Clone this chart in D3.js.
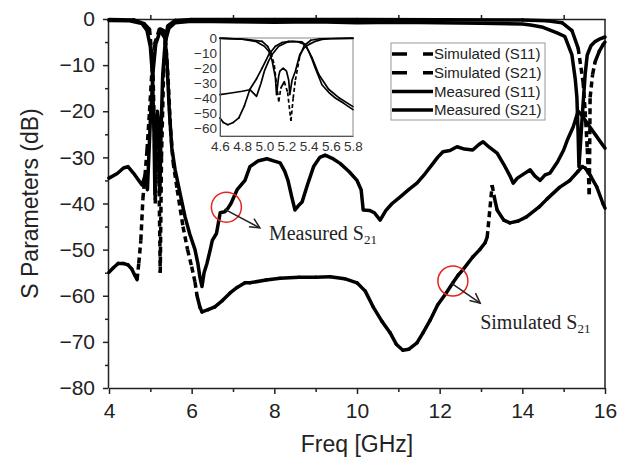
<!DOCTYPE html>
<html>
<head>
<meta charset="utf-8">
<script src="https://cdn.jsdelivr.net/npm/d3@7"></script>
<style>
body { margin: 0; background: #fff; }
svg { display: block; }
</style>
</head>
<body>
<script>
var width = 619,
    height = 463;

// tick values
var xTicks = [4, 6, 8, 10, 12, 14, 16],
    xMinor = [5, 7, 9, 11, 13, 15],
    yTicks = [0, -10, -20, -30, -40, -50, -60, -70, -80],
    yMinor = [-5, -15, -25, -35, -45, -55, -65, -75],
    insetXTicks = [4.6, 4.8, 5.0, 5.2, 5.4, 5.6, 5.8],
    insetYTicks = [0, -10, -20, -30, -40, -50, -60];

var seriesNames = ["Simulated (S11)", "Simulated (S21)", "Measured (S11)", "Measured (S21)"];

// main plot, [GHz, dB]
var simS11 = [[4,-0.1],[4.6,-0.2],[4.85,-1],[4.98,-2.2],[5.06,-10],[5.1,-25],[5.12,-40],[5.15,-30],[5.18,-27],
  [5.21,-35],[5.24,-55],[5.27,-30],[5.32,-12],[5.36,-5],[5.42,-1.5],[5.6,-0.3],[6,-0.1],[8,-0.1],[10,-0.1],
  [12,-0.15],[14,-0.2],[14.6,-0.4],[14.96,-0.8],[15.2,-2.5],[15.35,-6.3],[15.47,-13.7],[15.52,-20],[15.57,-28],
  [15.62,-38],[15.64,-17],[15.7,-12],[15.76,-9.3],[15.86,-7],[15.95,-5.6],[16,-5]];

var simS21 = [[4,-54.9],[4.1,-54],[4.22,-53],[4.35,-53],[4.46,-53.3],[4.55,-54.2],[4.62,-55.5],[4.68,-56.5],
  [4.72,-53],[4.77,-48],[4.82,-39],[4.87,-34],[4.92,-28.4],[4.98,-20],[5.04,-11],[5.1,-5.5],[5.22,-2.2],
  [5.37,-4.4],[5.43,-13],[5.49,-24],[5.55,-31],[5.65,-37],[5.79,-45],[5.9,-50],[6.0,-53.7],[6.08,-57],
  [6.13,-60],[6.2,-62.5],[6.25,-63.5],[6.4,-63],[6.56,-62.4],[6.75,-61],[6.93,-59.4],[7.1,-58.2],[7.29,-57.2],
  [7.41,-57.2],[7.8,-56.6],[8.14,-56.2],[8.6,-56],[9.0,-56],[9.35,-55.9],[9.7,-56.3],[10.0,-57.2],[10.2,-59],
  [10.39,-62.4],[10.6,-65.5],[10.8,-68],[10.95,-70.5],[11.11,-71.8],[11.25,-71.6],[11.45,-70.2],[11.6,-68],
  [11.77,-65.3],[11.95,-62],[12.15,-59.5],[12.32,-57.2],[12.45,-55.5],[12.56,-54.4],[12.8,-51.6],[12.97,-50],
  [13.1,-48.5],[13.15,-47.3],[13.27,-36],[13.33,-39],[13.39,-41.4],[13.55,-43.6],[13.7,-44.2],[13.9,-43.8],
  [14.1,-42.9],[14.4,-40.8],[14.6,-39],[14.9,-36.5],[15.15,-35],[15.35,-33],[15.45,-32],[15.52,-32.3],
  [15.65,-34],[15.8,-36.4],[15.95,-40],[16,-41]];

var measS11 = [[4,-0.3],[4.5,-0.4],[4.8,-1],[4.92,-2.5],[5.0,-6],[5.05,-12],[5.09,-25],[5.11,-38],[5.13,-24],
  [5.17,-20],[5.2,-23],[5.23,-38],[5.26,-24],[5.3,-12],[5.36,-5],[5.45,-2],[5.6,-0.8],[6,-0.5],[7,-0.6],
  [8,-0.7],[9,-0.6],[10,-0.8],[11,-0.7],[12,-0.8],[13,-0.9],[14,-1.1],[14.2,-1.3],[14.5,-1.8],[14.84,-3],
  [15.03,-3.8],[15.2,-7.8],[15.28,-13],[15.32,-17],[15.35,-25],[15.37,-32],[15.4,-28],[15.45,-21],
  [15.52,-12],[15.57,-7.8],[15.66,-5.8],[15.76,-4.9],[15.88,-4.3],[16,-3.9]];

var measS21 = [[4,-34.5],[4.2,-33.5],[4.35,-32.3],[4.46,-32],[4.6,-33.5],[4.72,-35],[4.8,-36],[4.87,-34],
  [4.93,-37],[5.0,-22],[5.07,-11],[5.13,-5.5],[5.25,-2.2],[5.34,-2.6],[5.4,-8.8],[5.46,-20],[5.52,-28],
  [5.6,-32.7],[5.7,-37],[5.84,-42.9],[5.95,-46.5],[6.08,-50],[6.15,-53],[6.2,-56],[6.25,-58],[6.3,-55],
  [6.37,-53],[6.45,-50],[6.5,-48],[6.6,-46.5],[6.69,-42],[6.8,-41.8],[6.88,-41],[6.95,-40],[7.1,-37],
  [7.29,-35],[7.41,-32],[7.6,-30.8],[7.82,-30.3],[8.0,-30.8],[8.14,-31.2],[8.25,-33],[8.33,-35],[8.42,-38.5],
  [8.5,-41.4],[8.58,-40.5],[8.67,-39.7],[8.8,-36],[8.95,-32],[9.1,-30],[9.23,-29.5],[9.4,-30.2],[9.59,-31.3],
  [9.8,-33],[10.0,-35],[10.1,-37],[10.15,-41.4],[10.3,-41.5],[10.42,-42],[10.56,-43.6],[10.7,-41.5],
  [10.85,-40],[11.04,-38.6],[11.25,-37],[11.45,-35.6],[11.65,-33.5],[11.84,-31.3],[11.95,-30],[12.08,-28.8],
  [12.25,-28.5],[12.42,-27.7],[12.6,-28.2],[12.8,-28.4],[12.95,-27.2],[13.05,-26.6],[13.2,-27.8],[13.39,-29.1],
  [13.55,-31.5],[13.7,-34],[13.78,-35.6],[13.88,-34.5],[14.0,-33.8],[14.19,-32.7],[14.3,-34],[14.43,-35],
  [14.55,-33.8],[14.67,-33.4],[14.85,-31],[15.0,-28.4],[15.1,-26],[15.23,-23.4],[15.35,-20],[15.45,-21],
  [15.6,-23],[15.8,-25.5],[16,-28]];

// inset (passband zoom)
var insetSimS11 = [[4.6,-0.1],[4.85,-1],[4.98,-2.2],[5.03,-5.5],[5.06,-10],[5.09,-18],[5.11,-31],[5.13,-42],
  [5.15,-33],[5.18,-29],[5.21,-36],[5.24,-55],[5.26,-40],[5.28,-28],[5.32,-12],[5.36,-5],[5.42,-1.5],
  [5.5,-0.5],[5.8,-0.1]];

var insetSimS21 = [[4.6,-53],[4.63,-56],[4.67,-57.5],[4.72,-56],[4.77,-53],[4.82,-45],[4.87,-34],[4.93,-27],
  [4.98,-20],[5.04,-11],[5.1,-5.5],[5.16,-3],[5.22,-2.2],[5.3,-2.5],[5.37,-4.4],[5.43,-13],[5.49,-24],
  [5.58,-34],[5.68,-40],[5.8,-45.5]];

var insetMeasS11 = [[4.6,-0.3],[4.8,-0.8],[4.92,-2.2],[5.0,-5.5],[5.04,-8.8],[5.07,-15],[5.1,-26.5],
  [5.11,-37.6],[5.13,-25],[5.14,-22],[5.17,-20],[5.2,-22],[5.22,-28],[5.23,-37.6],[5.25,-28],[5.28,-22],
  [5.32,-11],[5.36,-6.5],[5.4,-4.4],[5.46,-2.2],[5.52,-1],[5.6,-0.5],[5.8,-0.3]];

var insetMeasS21 = [[4.6,-37.6],[4.7,-36.5],[4.8,-35.3],[4.87,-34.3],[4.93,-38.7],[4.97,-30],[5.0,-22],
  [5.04,-15],[5.07,-11],[5.13,-5.5],[5.2,-3],[5.25,-2.2],[5.34,-2.6],[5.37,-4.5],[5.4,-8.8],[5.43,-14],
  [5.46,-20],[5.52,-31],[5.58,-36],[5.64,-39.8],[5.72,-43.5],[5.8,-47.5]];

// callouts: circle on the curve, arrow end, label
var callouts = [
  {text: "Measured S", sub: "21", at: [6.84, -40.8], tip: [7.65, -45.3], label: [7.87, -47.9]},
  {text: "Simulated S", sub: "21", at: [12.32, -56.8], tip: [12.98, -61.6], label: [12.98, -67.2]}
];

var sans = "'Liberation Sans', Arial, sans-serif",
    serif = "'Liberation Serif', 'Times New Roman', serif";

var svg = d3.select("body").append("svg")
    .attr("width", width)
    .attr("height", height);

var x = d3.scaleLinear().domain([4, 16]).range([109, 605]),
    y = d3.scaleLinear().domain([-80, 0]).range([388, 19]);

var xi = d3.scaleLinear().domain([4.6, 5.8]).range([220, 353]),
    yi = d3.scaleLinear().domain([-65, 0]).range([136, 38]);

// Origin-style: simulated lines only look dashed where a segment is long and steep
function drawSeries(g, pts, sx, sy, w, dashed, dash, steep) {
    var line = d3.line().x(function(d) { return sx(d[0]); }).y(function(d) { return sy(d[1]); });
    if (!dashed) {
        g.append("path").datum(pts)
            .attr("d", line)
            .attr("fill", "none")
            .attr("stroke", "#000")
            .attr("stroke-width", w)
            .attr("stroke-linejoin", "round")
            .attr("stroke-linecap", "round");
        return;
    }
    function isSteep(d) {
        var dy = Math.abs(sy(d[1][1]) - sy(d[0][1])),
            dx = Math.abs(sx(d[1][0]) - sx(d[0][0]));
        return dy > steep && dy > 3 * dx;
    }
    g.selectAll(null).data(d3.pairs(pts)).enter().append("path")
        .attr("d", line)
        .attr("fill", "none")
        .attr("stroke", "#000")
        .attr("stroke-width", w)
        .attr("stroke-dasharray", function(d) { return isSteep(d) ? dash : null; })
        .attr("stroke-linecap", function(d) { return isSteep(d) ? "butt" : "round"; });
}

// axes
function styleAxis(g, size) {
    g.select(".domain").attr("stroke", "#222").attr("stroke-width", 1.5);
    g.selectAll(".tick line").attr("stroke", "#222").attr("stroke-width", 1.5);
    g.selectAll("text").attr("font-family", sans).attr("font-size", size).attr("fill", "#222");
}

var gx = svg.append("g").attr("transform", "translate(0,388)")
    .call(d3.axisBottom(x).tickValues(xTicks).tickSize(6).tickSizeOuter(0).tickPadding(9));
styleAxis(gx, 21);
svg.append("g").attr("transform", "translate(0,388)")
    .call(d3.axisBottom(x).tickValues(xMinor).tickSize(4).tickFormat(""))
    .call(function(g) { g.select(".domain").remove(); styleAxis(g, 0); });

var gy = svg.append("g").attr("transform", "translate(108,0)")
    .call(d3.axisLeft(y).tickValues(yTicks).tickSize(5).tickSizeOuter(0).tickPadding(8));
styleAxis(gy, 21);
svg.append("g").attr("transform", "translate(108,0)")
    .call(d3.axisLeft(y).tickValues(yMinor).tickSize(3).tickFormat(""))
    .call(function(g) { g.select(".domain").remove(); styleAxis(g, 0); });

// top and right frame
svg.append("g").attr("transform", "translate(0,19)")
    .call(d3.axisTop(x).tickValues(xMinor).tickSize(4).tickSizeOuter(0).tickFormat(""))
    .call(function(g) { styleAxis(g, 0); });
svg.append("line")
    .attr("x1", x(16)).attr("x2", x(16))
    .attr("y1", y(0)).attr("y2", y(-80))
    .attr("stroke", "#222").attr("stroke-width", 1.5);

svg.append("text")
    .attr("x", (x(4) + x(16)) / 2).attr("y", 452)
    .attr("text-anchor", "middle")
    .attr("font-family", sans).attr("font-size", 23).attr("fill", "#222")
    .text("Freq [GHz]");

svg.append("text")
    .attr("transform", "translate(38," + (y(0) + y(-80)) / 2 + ") rotate(-90)")
    .attr("text-anchor", "middle")
    .attr("font-family", sans).attr("font-size", 23).attr("fill", "#222")
    .text("S Parameters (dB)");

// main curves
var main = svg.append("g");
drawSeries(main, simS21, x, y, 3.5, true, "6,4", 12);
drawSeries(main, measS21, x, y, 3.5, false);
drawSeries(main, simS11, x, y, 3.5, true, "6,4", 12);
drawSeries(main, measS11, x, y, 3.5, false);

// inset
var inset = svg.append("g");
inset.append("rect")
    .attr("x", xi(4.6)).attr("y", yi(0))
    .attr("width", xi(5.8) - xi(4.6)).attr("height", yi(-65) - yi(0))
    .attr("fill", "#fff").attr("stroke", "#888").attr("stroke-width", 1);

drawSeries(inset, insetSimS21, xi, yi, 1.7, true, "4,2.5", 6);
drawSeries(inset, insetMeasS21, xi, yi, 1.7, false);
drawSeries(inset, insetSimS11, xi, yi, 1.7, true, "4,2.5", 6);
drawSeries(inset, insetMeasS11, xi, yi, 1.7, false);

var ixa = inset.append("g").attr("transform", "translate(0," + yi(-65) + ")")
    .call(d3.axisBottom(xi).tickValues(insetXTicks).tickSize(0).tickPadding(5).tickFormat(d3.format(".1f")));
ixa.select(".domain").attr("stroke", "#555");
ixa.selectAll("text").attr("font-family", sans).attr("font-size", 13.5).attr("fill", "#333");

var iya = inset.append("g").attr("transform", "translate(" + xi(4.6) + ",0)")
    .call(d3.axisLeft(yi).tickValues(insetYTicks).tickSize(0).tickPadding(3));
iya.select(".domain").attr("stroke", "#555");
iya.selectAll("text").attr("font-family", sans).attr("font-size", 13.5).attr("fill", "#333");

// legend
var legend = svg.append("g").attr("transform", "translate(391,43)");
legend.append("rect")
    .attr("width", 154).attr("height", 77)
    .attr("fill", "#fff").attr("stroke", "#999").attr("stroke-width", 1);

var rows = legend.selectAll("g.row").data(seriesNames).enter().append("g")
    .attr("class", "row")
    .attr("transform", function(d, i) { return "translate(0," + (11 + i * 18.7) + ")"; });

rows.append("line")
    .attr("x1", 1).attr("x2", 42)
    .attr("stroke", "#000").attr("stroke-width", 3.5)
    .attr("stroke-dasharray", function(d) { return d.indexOf("Simulated") === 0 ? "15,16" : null; });

rows.append("text")
    .attr("x", 43).attr("dy", "0.35em")
    .attr("font-family", sans).attr("font-size", 15).attr("fill", "#222")
    .text(function(d) { return d; });

// callouts
var notes = svg.append("g");
callouts.forEach(function(c) {
    var cx = x(c.at[0]), cy = y(c.at[1]),
        tx = x(c.tip[0]), ty = y(c.tip[1]),
        a = Math.atan2(ty - cy, tx - cx), h = 11, s = 0.45;

    notes.append("circle")
        .attr("cx", cx).attr("cy", cy).attr("r", 15)
        .attr("fill", "none").attr("stroke", "#e3261f").attr("stroke-width", 1.5);

    notes.append("line")
        .attr("x1", cx - 2).attr("y1", cy + 2).attr("x2", tx).attr("y2", ty)
        .attr("stroke", "#222").attr("stroke-width", 1.5);

    notes.append("path")
        .attr("d", d3.line()([
            [tx - h * Math.cos(a - s), ty - h * Math.sin(a - s)],
            [tx, ty],
            [tx - h * Math.cos(a + s), ty - h * Math.sin(a + s)]
        ]))
        .attr("fill", "none").attr("stroke", "#222").attr("stroke-width", 1.5);

    var t = notes.append("text")
        .attr("x", x(c.label[0])).attr("y", y(c.label[1]))
        .attr("font-family", serif).attr("font-size", 20).attr("fill", "#222");
    t.append("tspan").text(c.text);
    t.append("tspan").attr("font-size", 13).attr("dy", 4).text(c.sub);
});
</script>
</body>
</html>
